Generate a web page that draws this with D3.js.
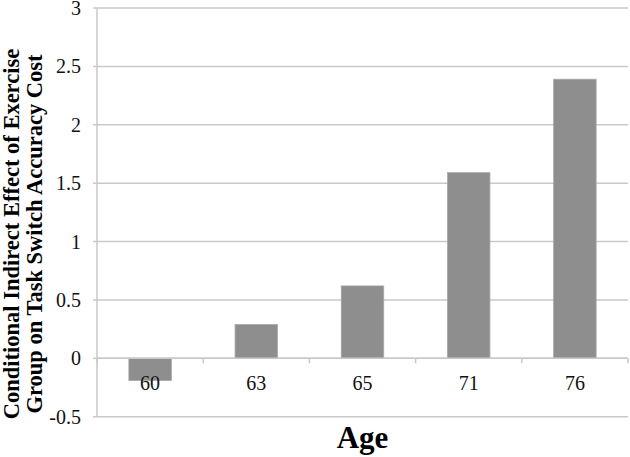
<!DOCTYPE html>
<html><head><meta charset="utf-8">
<script src="https://cdn.jsdelivr.net/npm/d3@7"></script>
<style>body{margin:0;background:#fff}svg{display:block}
text{font-family:"Liberation Serif",Tinos,"Times New Roman",Times,"DejaVu Serif",serif}</style>
</head><body>
<svg id="c" width="630" height="457"></svg>
<script>
const categories = ["60","63","65","71","76"];
const values = [-0.19, 0.29, 0.62, 1.59, 2.39];
const yTicks = [-0.5, 0, 0.5, 1, 1.5, 2, 2.5, 3];
const yTitleLines = ["Conditional Indirect Effect of Exercise","Group on Task Switch Accuracy Cost"];
const xTitle = "Age";

const svg = d3.select("#c");
const L = 97, R = 628, T = 8, B = 416.7;
const x = d3.scaleBand().domain(categories).range([L, R]).paddingInner(0.6).paddingOuter(0.3);
const xb = d3.scaleBand().domain(categories).range([L, R]);
const y = d3.scaleLinear().domain([-0.5, 3]).range([B, T]);
const grid = "#c9c9c9";

svg.append("g").selectAll("line").data(yTicks).join("line")
  .attr("x1", L - 4).attr("x2", R).attr("y1", d => y(d)).attr("y2", d => y(d))
  .attr("stroke", grid).attr("stroke-width", 1.5);
svg.append("line").attr("x1", L).attr("x2", L).attr("y1", T).attr("y2", B)
  .attr("stroke", grid).attr("stroke-width", 1.5);
svg.append("g").selectAll("text").data(yTicks).join("text")
  .attr("x", L - 16).attr("y", d => y(d)).attr("dy", "0.35em")
  .attr("text-anchor", "end").attr("font-size", 20).attr("fill", "#111")
  .text(d => d);

svg.append("g").selectAll("rect").data(values).join("rect")
  .attr("x", (d, i) => x(categories[i])).attr("width", x.bandwidth())
  .attr("y", d => y(Math.max(0, d))).attr("height", d => Math.abs(y(d) - y(0)))
  .attr("fill", "#8e8e8e").attr("stroke", "#a8a8a8").attr("stroke-width", 0.8);

const xa = svg.append("g");
xa.append("line").attr("x1", L).attr("x2", R).attr("y1", y(0)).attr("y2", y(0))
  .attr("stroke", grid).attr("stroke-width", 1.5);
const bounds = categories.map(c => xb(c)).concat([R]);
xa.selectAll("line.t").data(bounds).join("line").attr("class", "t")
  .attr("x1", d => d).attr("x2", d => d).attr("y1", y(0)).attr("y2", y(0) + 5)
  .attr("stroke", grid).attr("stroke-width", 1.5);
xa.selectAll("text").data(categories).join("text")
  .attr("x", d => xb(d) + xb.bandwidth() / 2).attr("y", 389.5)
  .attr("text-anchor", "middle").attr("font-size", 20).attr("fill", "#111")
  .text(d => d);

svg.append("text").attr("x", (L + R) / 2).attr("y", 448).attr("text-anchor", "middle")
  .attr("font-weight", "bold").attr("font-size", 31).attr("fill", "#000")
  .text(xTitle);

const yt = svg.append("text").attr("transform", "translate(0,234) rotate(-90)")
  .attr("text-anchor", "middle").attr("font-weight", "bold")
  .attr("font-size", 22.5).attr("fill", "#000");
yTitleLines.forEach((t, i) => yt.append("tspan").attr("x", 0).attr("y", 18.5 + i * 23.5).text(t));
</script>
</body></html>
